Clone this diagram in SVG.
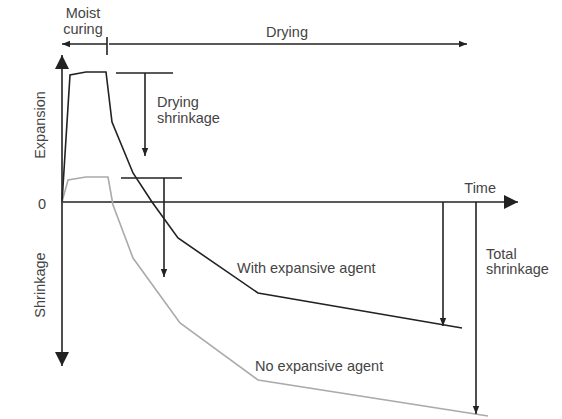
<svg xmlns="http://www.w3.org/2000/svg" width="562" height="419" viewBox="0 0 562 419">
<defs>
<style>
.ln{stroke:#222;stroke-width:1.6;fill:none}
.t{font-family:"Liberation Sans",Arial,sans-serif;font-size:14.5px;fill:#444}
</style>
<marker id="ah" viewBox="0 0 10 10" refX="10" refY="5" markerWidth="10" markerHeight="10" markerUnits="userSpaceOnUse" orient="auto"><path d="M0,0L10,5L0,10z" fill="#222"/></marker>
<marker id="ahs" viewBox="0 0 10 10" refX="10" refY="5" markerWidth="8" markerHeight="8" markerUnits="userSpaceOnUse" orient="auto"><path d="M0,1L10,5L0,9z" fill="#222"/></marker>
<marker id="ahb" viewBox="0 0 10 10" refX="10" refY="5" markerWidth="14" markerHeight="14" markerUnits="userSpaceOnUse" orient="auto"><path d="M0,0L10,5L0,10z" fill="#222"/></marker>
</defs>
<rect width="562" height="419" fill="#fff"/>
<g id="axes">
<line class="ln" x1="62" y1="202" x2="62" y2="55" marker-end="url(#ahb)"/>
<line class="ln" x1="62" y1="202" x2="62" y2="366" marker-end="url(#ahb)"/>
<line class="ln" x1="62" y1="202" x2="518" y2="202" marker-end="url(#ahb)"/>
<text class="t" x="42" y="209" text-anchor="middle" font-size="16">0</text>
<text class="t" x="496" y="193" text-anchor="end">Time</text>
<text class="t" transform="translate(45,125) rotate(-90)" text-anchor="middle">Expansion</text>
<text class="t" transform="translate(45,285) rotate(-90)" text-anchor="middle">Shrinkage</text>
</g>
<g id="phases">
<line class="ln" x1="107" y1="44" x2="62" y2="44" marker-end="url(#ahs)"/>
<line class="ln" x1="107" y1="37" x2="107" y2="55"/>
<line class="ln" x1="109" y1="44" x2="467" y2="44" marker-end="url(#ahs)"/>
<text class="t" x="83" y="18" text-anchor="middle">Moist</text>
<text class="t" x="83" y="34" text-anchor="middle">curing</text>
<text class="t" x="287" y="37" text-anchor="middle">Drying</text>
</g>
<g id="no-agent">
<polyline points="62,202 68,180 86,177 108,177 113,205 133,258 180,323 258,380 488,416" fill="none" stroke="#aaa" stroke-width="1.6"/>
<text class="t" x="255" y="371">No expansive agent</text>
</g>
<g id="with-agent">
<polyline class="ln" points="62,202 70,75 86,72 106,72 112,122 133,173 152,202 178,238 258,293 462,328"/>
<text class="t" x="237" y="273">With expansive agent</text>
</g>
<g id="connectors">
<line class="ln" x1="116" y1="73" x2="173" y2="73"/>
<line class="ln" x1="145" y1="73" x2="145" y2="156" marker-end="url(#ahs)"/>
<line class="ln" x1="121" y1="178" x2="182" y2="178"/>
<line class="ln" x1="164" y1="178" x2="164" y2="277" marker-end="url(#ahs)"/>
<line class="ln" x1="443" y1="202" x2="443" y2="326" marker-end="url(#ahs)"/>
<line class="ln" x1="476" y1="202" x2="476" y2="414" marker-end="url(#ahs)"/>
</g>
<g id="labels">
<text class="t" x="157" y="107">Drying</text>
<text class="t" x="157" y="123">shrinkage</text>
<text class="t" x="486" y="259">Total</text>
<text class="t" x="486" y="274">shrinkage</text>
</g>
</svg>
